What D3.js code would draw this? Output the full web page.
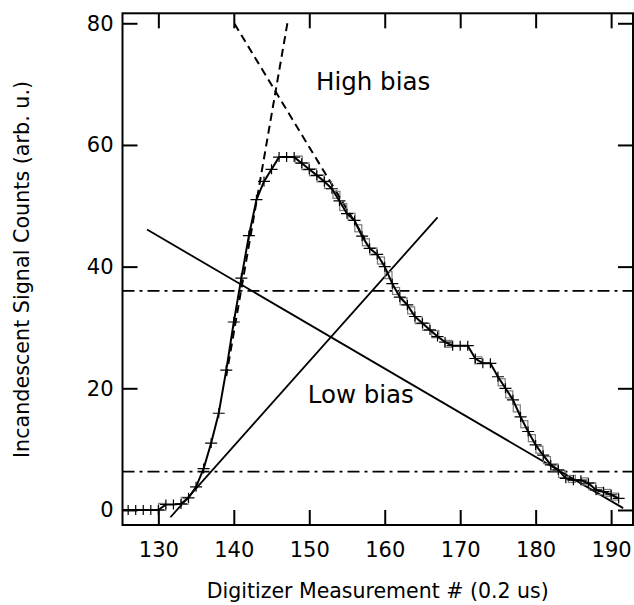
<!DOCTYPE html>
<html>
<head>
<meta charset="utf-8">
<script src="https://cdn.jsdelivr.net/npm/d3@7"></script>
<style>
  body { margin: 0; background: #fff; }
  svg { display: block; font-family: "DejaVu Sans", sans-serif; }
</style>
</head>
<body>
<svg width="634" height="605"></svg>
<script>
// measured signal, one point per digitizer sample
const sampleX = [125, 126, 127, 128, 129, 130, 131, 132, 133, 134, 135, 136, 137, 138, 139, 140,
                 141, 142, 143, 144, 145, 146, 147, 148, 149, 150, 151, 152, 153, 154, 155, 156,
                 157, 158, 159, 160, 161, 162, 163, 164, 165, 166, 167, 168, 169, 170, 171, 172,
                 173, 174, 175, 176, 177, 178, 179, 180, 181, 182, 183, 184, 185, 186, 187, 188,
                 189, 190, 191];
const sampleY = [0, 0, 0, 0, 0, 0, 0.9, 0.9, 1.0, 2.0, 3.8, 6.8, 11.0, 15.9, 23.0, 30.9,
                 38.1, 45.1, 51.0, 54.0, 56.0, 58.0, 58.0, 58.0, 57.0, 56.0, 55.0, 54.0, 52.8, 50.8, 48.7, 47.6,
                 45.0, 43.0, 42.0, 40.0, 37.2, 35.0, 33.7, 31.8, 30.7, 29.6, 28.5, 27.6, 27.0, 27.0, 27.0, 24.9,
                 24.1, 24.1, 21.9, 20.0, 18.1, 15.3, 12.9, 10.7, 9.0, 7.4, 6.6, 5.2, 4.9, 4.9, 4.4, 3.3,
                 3.0, 2.5, 1.9];

// second (square-marker) trace
const squareX = [130.5, 133.5, 148.6, 149.5, 150.5, 151.5, 152.5, 153.6, 154.5, 155.6, 156.5, 157.5,
                 158.5, 159.5, 160.5, 161.5, 162.5, 163.5, 164.5, 165.5, 166.7, 168.4, 172.4, 175.5,
                 176.5, 177.5, 178.5, 179.5, 180.5, 181.5, 182.5, 183.5, 184.8, 186.5, 187.5, 188.5, 189.5, 190.5];
const squareY = [0.5, 1.5, 57.6, 56.5, 55.5, 54.5, 53.4, 51.8, 49.8, 48.2, 46.3, 44.0,
                 42.5, 41.0, 38.6, 36.0, 34.3, 32.8, 31.2, 30.1, 28.9, 27.3, 24.6, 21.0,
                 19.0, 16.7, 14.1, 11.8, 9.9, 8.2, 7.0, 5.9, 5.1, 4.7, 3.9, 3.1, 2.8, 2.2];

// straight fit lines (solid) and extrapolated slopes (dashed): [x1, y1, x2, y2]
const solidLines = [[131.6, -1.2, 167.0, 48.1], [128.5, 46.1, 191.6, 0.3]];
const dashedLines = [[147.1, 80, 139.0, 22.0], [140.1, 79.9, 157.4, 44.5]];
// dash-dot threshold levels
const levels = [36.0, 6.3];

const xTicks = [130, 140, 150, 160, 170, 180, 190];
const yTicks = [0, 20, 40, 60, 80];

const plotLeft = 122.5, plotRight = 633, plotTop = 13.3, plotBottom = 525;
const svg = d3.select("svg");

const x = d3.scaleLinear().domain([125.25, 192.9]).range([plotLeft, plotRight]);
const y = d3.scaleLinear().domain([-2.47, 81.64]).range([plotBottom, plotTop]);

svg.append("clipPath").attr("id", "plot")
  .append("rect")
    .attr("x", plotLeft).attr("y", plotTop)
    .attr("width", plotRight - plotLeft).attr("height", plotBottom - plotTop);

const plot = svg.append("g").attr("clip-path", "url(#plot)");

// dash-dot levels
plot.selectAll("line.level")
  .data(levels)
  .enter()
  .append("line")
    .attr("class", "level")
    .attr("x1", plotLeft).attr("x2", plotRight)
    .attr("y1", d => y(d)).attr("y2", d => y(d))
    .attr("stroke", "#000")
    .attr("stroke-width", 1.8)
    .attr("stroke-dasharray", "12,5,3,5");

plot.selectAll("line.solid")
  .data(solidLines)
  .enter()
  .append("line")
    .attr("x1", d => x(d[0])).attr("y1", d => y(d[1]))
    .attr("x2", d => x(d[2])).attr("y2", d => y(d[3]))
    .attr("stroke", "#000")
    .attr("stroke-width", 1.8);

plot.selectAll("line.dashed")
  .data(dashedLines)
  .enter()
  .append("line")
    .attr("x1", d => x(d[0])).attr("y1", d => y(d[1]))
    .attr("x2", d => x(d[2])).attr("y2", d => y(d[3]))
    .attr("stroke", "#000")
    .attr("stroke-width", 2)
    .attr("stroke-dasharray", "8,5");

// square markers
plot.selectAll("rect.sq")
  .data(squareX)
  .enter()
  .append("rect")
    .attr("x", d => x(d) - 3.5)
    .attr("y", (d, i) => y(squareY[i]) - 3.5)
    .attr("width", 7).attr("height", 7)
    .attr("fill", "none")
    .attr("stroke", "#7a7a7a")
    .attr("stroke-width", 1.2);

const line = d3.line()
  .x(d => x(d))
  .y((d, i) => y(sampleY[i]));

plot.append("path")
  .datum(sampleX)
  .attr("d", line)
  .attr("fill", "none")
  .attr("stroke", "#000")
  .attr("stroke-width", 2);

// plus markers
const plus = plot.selectAll("g.plus")
  .data(sampleX)
  .enter()
  .append("g")
    .attr("transform", (d, i) => "translate(" + x(d) + "," + y(sampleY[i]) + ")");
plus.append("path")
  .attr("d", "M-6,0H6M0,-5V5")
  .attr("stroke", "#000")
  .attr("stroke-width", 1.2);

// axes, ticks pointing inward
const xAxis = d3.axisBottom(x).tickValues(xTicks).tickSize(-15).tickPadding(17);
const yAxis = d3.axisLeft(y).tickValues(yTicks).tickSize(-15).tickPadding(9);

svg.append("g")
  .attr("transform", "translate(0," + plotBottom + ")")
  .call(xAxis);
svg.append("g")
  .attr("transform", "translate(" + plotLeft + ",0)")
  .call(yAxis);
svg.append("g")
  .attr("transform", "translate(0," + plotTop + ")")
  .call(d3.axisTop(x).tickValues(xTicks).tickSize(-15).tickFormat(""));
svg.append("g")
  .attr("transform", "translate(" + plotRight + ",0)")
  .call(d3.axisRight(y).tickValues(yTicks).tickSize(-15).tickFormat(""));

svg.selectAll(".domain").remove();
svg.selectAll(".tick line").attr("stroke", "#000").attr("stroke-width", 2);
svg.selectAll(".tick text")
  .attr("fill", "#000")
  .style("font-family", "DejaVu Sans")
  .style("font-size", "21px");

svg.append("rect")
  .attr("x", plotLeft).attr("y", plotTop)
  .attr("width", plotRight - plotLeft).attr("height", plotBottom - plotTop)
  .attr("fill", "none")
  .attr("stroke", "#000")
  .attr("stroke-width", 2);

// labels
svg.append("text")
  .attr("x", 316)
  .attr("y", 90)
  .style("font-size", "24.5px")
  .text("High bias");
svg.append("text")
  .attr("x", 307.7)
  .attr("y", 402.7)
  .style("font-size", "24.5px")
  .text("Low bias");

svg.append("text")
  .attr("x", (plotLeft + plotRight) / 2)
  .attr("y", 598)
  .style("text-anchor", "middle")
  .style("font-size", "20.5px")
  .text("Digitizer Measurement # (0.2 us)");
svg.append("text")
  .attr("transform", "rotate(-90)")
  .attr("x", -269.5)
  .attr("y", 28.5)
  .style("text-anchor", "middle")
  .style("font-size", "20.7px")
  .text("Incandescent Signal Counts (arb. u.)");
</script>
</body>
</html>
